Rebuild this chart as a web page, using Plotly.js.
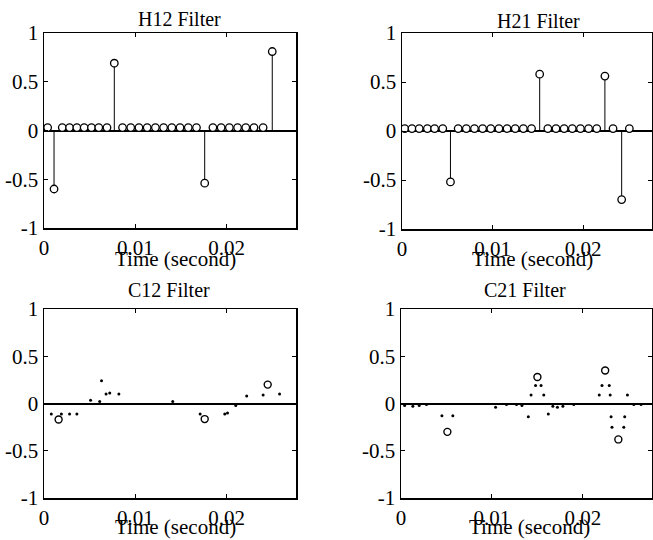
<!DOCTYPE html>
<html>
<head>
<meta charset="utf-8">
<script src="https://cdn.plot.ly/plotly-3.0.1.min.js"></script>
<style>html,body{margin:0;padding:0;background:#fff;}#chart{width:653px;height:540px;}</style>
</head>
<body>
<div id="chart"></div>
<script>
// ---- Data ----
var plotTitles = ['H12 Filter', 'H21 Filter', 'C12 Filter', 'C21 Filter'];
var xLabel = 'Time (second)';
var xTickVals = [0, 0.01, 0.02];
var xTickText = ['0', '0.01', '0.02'];
var yTickVals = [-1, -0.5, 0, 0.5, 1];
var yTickText = ['-1', '-0.5', '0', '0.5', '1'];

// H12 stem samples
var h12Time = [0.0004, 0.0011, 0.0020, 0.0028, 0.0036, 0.0044, 0.0052, 0.0060, 0.0069, 0.0077,
               0.0086, 0.0095, 0.0104, 0.0113, 0.0122, 0.0131, 0.0140, 0.0149, 0.0158, 0.0167,
               0.0176, 0.0185, 0.0194, 0.0203, 0.0212, 0.0221, 0.0230, 0.0240, 0.0250];
var h12Value = [0.03, -0.60, 0.03, 0.03, 0.03, 0.03, 0.03, 0.03, 0.03, 0.69,
                0.03, 0.03, 0.03, 0.03, 0.03, 0.03, 0.03, 0.03, 0.03, 0.03,
                -0.54, 0.03, 0.03, 0.03, 0.03, 0.03, 0.03, 0.03, 0.81];

// H21 stem samples
var h21Time = [0.0003, 0.0011, 0.0019, 0.0028, 0.0036, 0.0045, 0.00535, 0.0062, 0.0071, 0.0080,
               0.0089, 0.0098, 0.0107, 0.0116, 0.0125, 0.0134, 0.0143, 0.0152, 0.0161, 0.0170,
               0.0179, 0.0188, 0.0197, 0.0206, 0.0215, 0.0224, 0.0233, 0.02425, 0.0251];
var h21Value = [0.025, 0.025, 0.025, 0.025, 0.025, 0.025, -0.52, 0.025, 0.025, 0.025,
                0.025, 0.025, 0.025, 0.025, 0.025, 0.025, 0.025, 0.58, 0.025, 0.025,
                0.025, 0.025, 0.025, 0.025, 0.025, 0.56, 0.025, -0.70, 0.025];

// C12 dotted trace (dots) and its peak circles
var c12DotTime = [0.0008, 0.0019, 0.0028, 0.0036, 0.0051, 0.0061, 0.0063, 0.0068, 0.0072, 0.0082,
                  0.0141, 0.0171, 0.0198, 0.0201, 0.0210, 0.0222, 0.0240, 0.0258];
var c12DotValue = [-0.11, -0.11, -0.11, -0.11, 0.035, 0.02, 0.24, 0.10, 0.11, 0.10,
                   0.02, -0.11, -0.11, -0.10, -0.02, 0.08, 0.09, 0.10];
var c12PeakTime = [0.0016, 0.0176, 0.0245];
var c12PeakValue = [-0.17, -0.165, 0.20];

// C21 dotted trace (dots) and its peak circles
var c21DotTime = [0.0004, 0.0013, 0.0020, 0.0028, 0.0045, 0.0057, 0.0104, 0.0116, 0.0127, 0.0133,
                  0.0140, 0.0143, 0.0148, 0.0154, 0.0157, 0.0162, 0.0167, 0.0172, 0.0178, 0.0190,
                  0.0218, 0.0221, 0.0229, 0.0230, 0.0231, 0.0232, 0.0245, 0.0246, 0.0249, 0.0256, 0.0264];
var c21DotValue = [-0.02, -0.03, -0.02, -0.01, -0.13, -0.13, -0.04, -0.01, -0.01, -0.02,
                   -0.14, 0.09, 0.19, 0.19, 0.09, -0.11, -0.03, -0.04, -0.03, -0.01,
                   0.09, 0.19, 0.19, 0.09, -0.14, -0.25, -0.25, -0.14, 0.09, -0.01, -0.01];
var c21PeakTime = [0.0051, 0.0150, 0.02245, 0.0239];
var c21PeakValue = [-0.30, 0.28, 0.35, -0.38];

// ---- Build traces ----
var SERIF = 'Liberation Serif, Times New Roman, serif';

function stemLines(t, v, ax) {
  var xs = [], ys = [];
  for (var i = 0; i < t.length; i++) { xs.push(t[i], t[i], null); ys.push(0, v[i], null); }
  return {x: xs, y: ys, mode: 'lines', line: {color: 'black', width: 1}, xaxis: 'x' + ax, yaxis: 'y' + ax,
          hoverinfo: 'skip', showlegend: false, type: 'scatter'};
}
function stemHeads(t, v, ax) {
  return {x: t, y: v, mode: 'markers', type: 'scatter', xaxis: 'x' + ax, yaxis: 'y' + ax, showlegend: false,
          marker: {symbol: 'circle', size: 7.5, color: 'white', line: {color: 'black', width: 1.3}}};
}
function dots(t, v, ax) {
  return {x: t, y: v, mode: 'markers', type: 'scatter', xaxis: 'x' + ax, yaxis: 'y' + ax, showlegend: false,
          marker: {symbol: 'circle', size: 3, color: 'black'}};
}
function peaks(t, v, ax) {
  return {x: t, y: v, mode: 'markers', type: 'scatter', xaxis: 'x' + ax, yaxis: 'y' + ax, showlegend: false,
          marker: {symbol: 'circle-open', size: 7, color: 'black', line: {color: 'black', width: 1.4}}};
}

var data = [
  stemLines(h12Time, h12Value, ''), stemHeads(h12Time, h12Value, ''),
  stemLines(h21Time, h21Value, '2'), stemHeads(h21Time, h21Value, '2'),
  dots(c12DotTime, c12DotValue, '3'), peaks(c12PeakTime, c12PeakValue, '3'),
  dots(c21DotTime, c21DotValue, '4'), peaks(c21PeakTime, c21PeakValue, '4')
];

// ---- Layout (pixel geometry of the reference) ----
var W = 653, H = 540;
var boxes = [ // [left, right, top, bottom] in px
  [44, 296, 33, 228],
  [402, 652, 33, 229],
  [44, 296, 309, 498],
  [401, 652, 309, 498]
];
function xaxis(b, anchor) {
  return {domain: [b[0] / W, b[1] / W], range: [0, 0.0276], anchor: anchor,
          showgrid: false, zeroline: false, showline: true, linecolor: 'black', linewidth: 1.5, mirror: 'allticks',
          ticks: 'inside', ticklen: 4, tickwidth: 1, tickcolor: 'black',
          tickvals: xTickVals, ticktext: xTickText, ticklabelstandoff: 0,
          tickfont: {family: SERIF, size: 21, color: 'black'}, fixedrange: true};
}
function yaxis(b, anchor) {
  return {domain: [1 - b[3] / H, 1 - b[2] / H], range: [-1, 1], anchor: anchor,
          showgrid: false, zeroline: true, zerolinecolor: 'black', zerolinewidth: 2,
          showline: true, linecolor: 'black', linewidth: 1.5, mirror: 'allticks',
          ticks: 'inside', ticklen: 4, tickwidth: 1, tickcolor: 'black',
          tickvals: yTickVals, ticktext: yTickText, ticklabelstandoff: 0,
          tickfont: {family: SERIF, size: 21, color: 'black'}, fixedrange: true};
}

var titlePos = [[179, 19], [538, 21], [169, 290], [525, 290]];
var labelPos = [[175, 259], [532, 259], [175, 527], [529, 527]];
var annotations = [];
for (var k = 0; k < 4; k++) {
  annotations.push({text: plotTitles[k], xref: 'paper', yref: 'paper', x: titlePos[k][0] / W, y: 1 - titlePos[k][1] / H,
                    xanchor: 'center', yanchor: 'middle', showarrow: false, font: {family: SERIF, size: 20, color: 'black'}});
  annotations.push({text: xLabel, xref: 'paper', yref: 'paper', x: labelPos[k][0] / W, y: 1 - labelPos[k][1] / H,
                    xanchor: 'center', yanchor: 'middle', showarrow: false, font: {family: SERIF, size: 21, color: 'black'}});
}

var layout = {
  width: W, height: H, margin: {l: 0, r: 0, t: 0, b: 0},
  paper_bgcolor: 'white', plot_bgcolor: 'white', showlegend: false,
  xaxis: xaxis(boxes[0], 'y'), yaxis: yaxis(boxes[0], 'x'),
  xaxis2: xaxis(boxes[1], 'y2'), yaxis2: yaxis(boxes[1], 'x2'),
  xaxis3: xaxis(boxes[2], 'y3'), yaxis3: yaxis(boxes[2], 'x3'),
  xaxis4: xaxis(boxes[3], 'y4'), yaxis4: yaxis(boxes[3], 'x4'),
  annotations: annotations
};

Plotly.newPlot('chart', data, layout, {displayModeBar: false, staticPlot: true});
</script>
</body>
</html>
